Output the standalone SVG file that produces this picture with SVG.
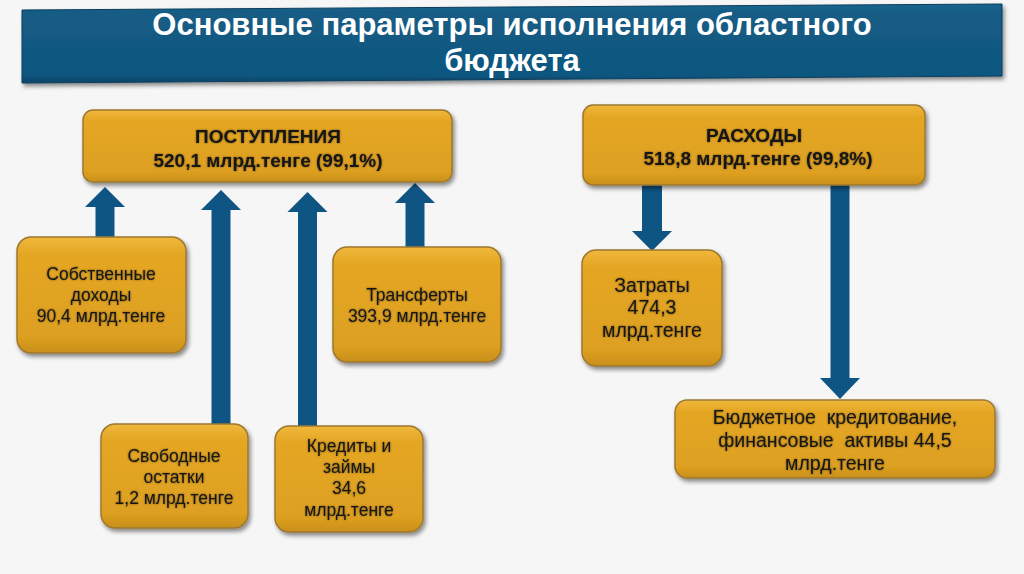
<svg xmlns="http://www.w3.org/2000/svg" width="1024" height="574" viewBox="0 0 1024 574">
<defs>
<linearGradient id="gold" x1="0" y1="0" x2="0" y2="1">
<stop offset="0" stop-color="#f0b83c"/>
<stop offset="0.15" stop-color="#e4a624"/>
<stop offset="0.85" stop-color="#dea020"/>
<stop offset="1" stop-color="#c98f1c"/>
</linearGradient>
<linearGradient id="blue" x1="0" y1="0" x2="0" y2="1">
<stop offset="0" stop-color="#1a6690"/>
<stop offset="0.1" stop-color="#135c84"/>
<stop offset="0.9" stop-color="#105780"/>
<stop offset="1" stop-color="#0b4466"/>
</linearGradient>
<filter id="shadow" x="-10%" y="-10%" width="130%" height="140%">
<feGaussianBlur in="SourceAlpha" stdDeviation="2"/>
<feOffset dx="2" dy="3" result="b"/>
<feComponentTransfer><feFuncA type="linear" slope="0.45"/></feComponentTransfer>
<feMerge><feMergeNode/><feMergeNode in="SourceGraphic"/></feMerge>
</filter>
<filter id="tglow" x="-5%" y="-20%" width="110%" height="140%">
<feGaussianBlur in="SourceAlpha" stdDeviation="1.3"/>
<feComponentTransfer><feFuncA type="linear" slope="0.5"/></feComponentTransfer>
<feMerge><feMergeNode/><feMergeNode in="SourceGraphic"/></feMerge>
</filter>
</defs>
<style>
.box{fill:url(#gold);stroke:#9c7830;stroke-width:1.5;filter:url(#shadow)}
.t{font-family:"Liberation Sans",Arial,sans-serif;font-size:17.5px;fill:#151515;text-anchor:middle;white-space:pre;filter:url(#tglow)}
.b{font-size:19.5px}
.h{font-weight:bold;font-size:19px}
.title{font-family:"Liberation Sans",Arial,sans-serif;font-size:31px;font-weight:bold;fill:#ffffff;text-anchor:middle}
.arr{fill:#0f5584}
</style>
<rect width="1024" height="574" fill="#f6f6f6"/>
<g id="title">
<polygon points="22,10 1002,4 1002,76 22,83" fill="url(#blue)" stroke="#0a3e5c" stroke-width="1" filter="url(#shadow)"/>
<text class="title" x="512" y="35">Основные параметры исполнения областного</text>
<text class="title" x="512" y="71">бюджета</text>
</g>
<g id="connectors">
<polygon class="arr" points="105,187 125,207 114.5,207 114.5,237 95.5,237 95.5,207 85,207"/>
<polygon class="arr" points="221,190 241,210 230.5,210 230.5,424 211.5,424 211.5,210 201,210"/>
<polygon class="arr" points="307.5,192 327.5,212 317,212 317,426 298,426 298,212 287.5,212"/>
<polygon class="arr" points="415,183 435,203 424.5,203 424.5,247 405.5,247 405.5,203 395,203"/>
<polygon class="arr" points="642,185 662,185 662,231 672,231 652,251 632,231 642,231"/>
<polygon class="arr" points="830.5,185 849.5,185 849.5,378 860,378 840,399 820,378 830.5,378"/>
</g>
<g id="postupleniya">
<rect class="box" x="83" y="110" width="369" height="72" rx="10"/>
<text class="t h" x="268" y="143">ПОСТУПЛЕНИЯ</text>
<text class="t h" x="268" y="167">520,1 млрд.тенге (99,1%)</text>
</g>
<g id="rashody">
<rect class="box" x="583" y="105" width="342" height="80" rx="10"/>
<text class="t h" x="754" y="142">РАСХОДЫ</text>
<text class="t h" x="758" y="165">518,8 млрд.тенге (99,8%)</text>
</g>
<g id="sobstvennye">
<rect class="box" x="17" y="237" width="169" height="116" rx="14"/>
<text class="t" x="101" y="280">Собственные</text>
<text class="t" x="101" y="301">доходы</text>
<text class="t" x="101" y="322">90,4 млрд.тенге</text>
</g>
<g id="transferty">
<rect class="box" x="333" y="247" width="168" height="115" rx="14"/>
<text class="t" x="417" y="301">Трансферты</text>
<text class="t" x="417" y="322">393,9 млрд.тенге</text>
</g>
<g id="svobodnye">
<rect class="box" x="101" y="424" width="147" height="104" rx="14"/>
<text class="t" x="174" y="462">Свободные</text>
<text class="t" x="174" y="483">остатки</text>
<text class="t" x="174" y="504">1,2 млрд.тенге</text>
</g>
<g id="kredity">
<rect class="box" x="275" y="426" width="148" height="106" rx="14"/>
<text class="t" x="349" y="452">Кредиты и</text>
<text class="t" x="349" y="473">займы</text>
<text class="t" x="349" y="494">34,6</text>
<text class="t" x="349" y="516">млрд.тенге</text>
</g>
<g id="zatraty">
<rect class="box" x="582" y="250" width="140" height="116" rx="14"/>
<text class="t b" x="652" y="292">Затраты</text>
<text class="t b" x="652" y="314">474,3</text>
<text class="t b" x="652" y="337">млрд.тенге</text>
</g>
<g id="kreditovanie">
<rect class="box" x="675" y="400" width="320" height="78" rx="12"/>
<text class="t b" x="835" y="424">Бюджетное  кредитование,</text>
<text class="t b" x="835" y="447">финансовые  активы 44,5</text>
<text class="t b" x="835" y="470">млрд.тенге</text>
</g>
</svg>
